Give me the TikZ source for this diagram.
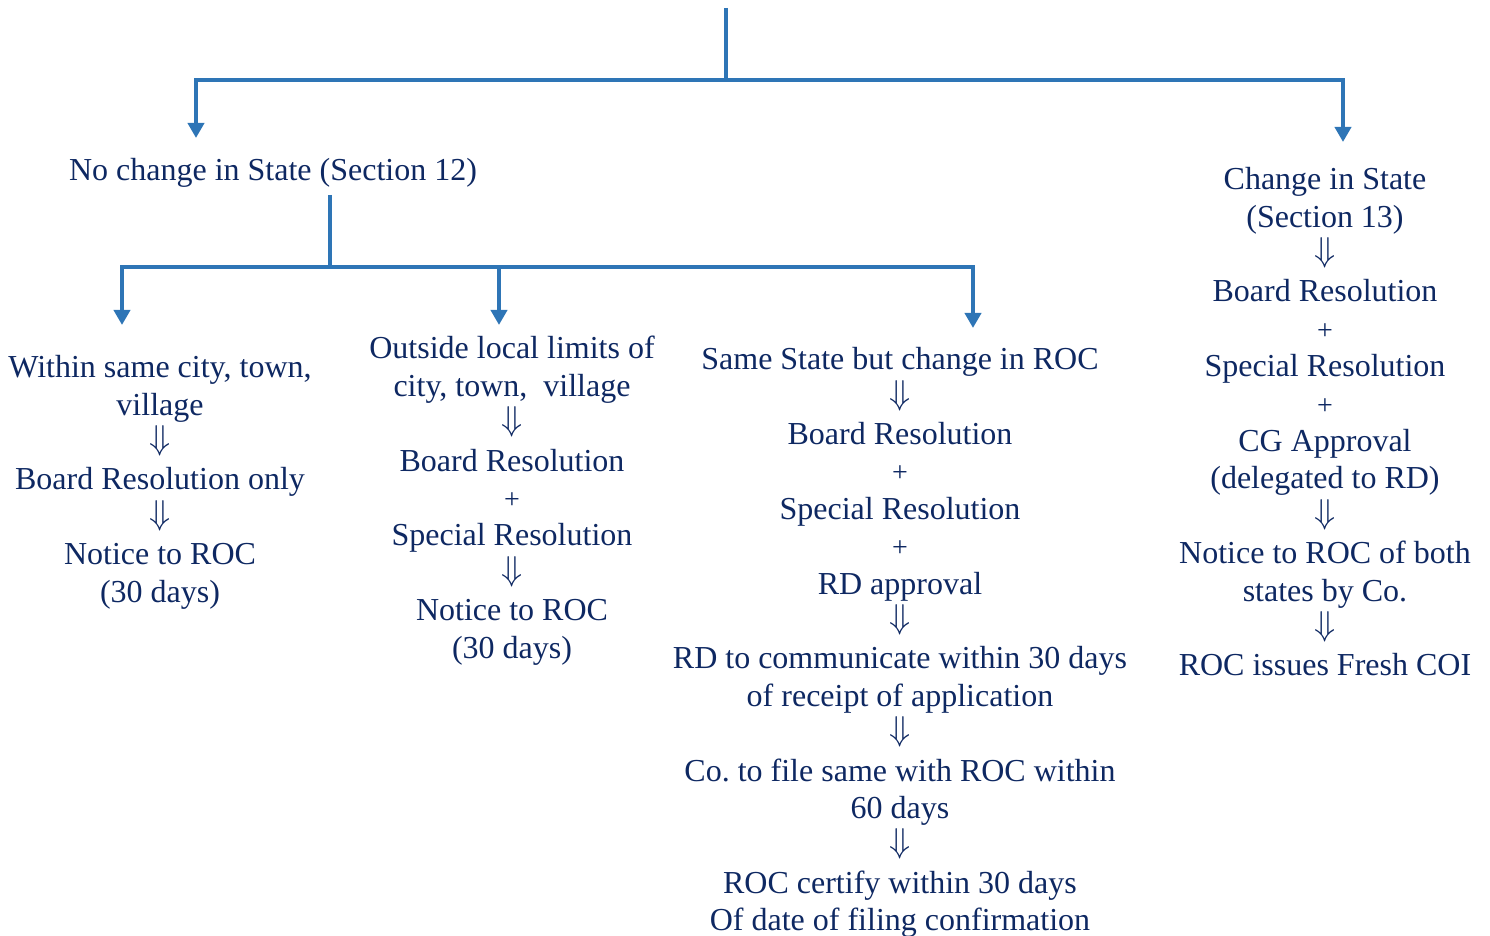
\documentclass[tikz,border=0pt]{standalone}
\usepackage{fontspec}
\setmainfont{Liberation Serif}
\usetikzlibrary{arrows.meta}
\frenchspacing

\definecolor{linkblue}{HTML}{2E75B6}
\definecolor{inknavy}{RGB}{14,40,98}
\newcommand{\thenarrow}{\raisebox{1.5pt}{$\Downarrow$}}
\newcommand{\plusline}{{\fontsize{14}{18.7}\selectfont +}}

\begin{document}
\begin{tikzpicture}[
    x=0.5pt, y=-0.5pt,
    bus/.style={draw=linkblue, line width=2.2pt},
    arrow/.style={bus, -{Triangle[length=7.5pt, width=8pt]}},
    steps/.style={inner sep=0pt, anchor=north, align=center, text=inknavy,
                  font=\fontsize{16}{18.7}\selectfont},
]
\useasboundingbox (0,0) rectangle (1490,936);

% headings
\node[steps] (nochange) at (273,158) {No change in State (Section 12)};

% columns
\node[steps] (samecity) at (160,355) {Within same city, town,\\ village\\ \thenarrow\\
    Board Resolution only\\ \thenarrow\\ Notice to ROC\\ (30 days)};
\node[steps] (outside) at (512,336) {Outside local limits of\\ city, town,\ \ village\\ \thenarrow\\
    Board Resolution\\ \plusline\\ Special Resolution\\ \thenarrow\\
    Notice to ROC\\ (30 days)};
\node[steps] (samestate) at (900,347) {Same State but change in ROC\\ \thenarrow\\
    Board Resolution\\ \plusline\\ Special Resolution\\
    \plusline\\ RD approval\\ \thenarrow\\
    RD to communicate within 30 days\\ of receipt of application\\ \thenarrow\\
    Co.\ to file same with ROC within\\ 60 days\\ \thenarrow\\
    ROC certify within 30 days\\ Of date of filing confirmation};
\node[steps] (change) at (1325,167) {Change in State\\ (Section 13)\\ \thenarrow\\
    Board Resolution\\ \plusline\\ Special Resolution\\
    \plusline\\ CG Approval\\ (delegated to RD)\\ \thenarrow\\
    Notice to ROC of both\\ states by Co.\\ \thenarrow\\ ROC issues Fresh COI};

% tree lines
\coordinate (root) at (726,8);
\coordinate (split) at (726,80);
\coordinate (tonochange) at (196,138);
\coordinate (tochange) at (1343,142);
\coordinate (sub) at (330,195);
\coordinate (subsplit) at (330,267);
\coordinate (tosamecity) at (122,325);
\coordinate (tooutside) at (499,325);
\coordinate (tosamestate) at (973,328);

\draw[bus] (root) -- (split);
\foreach \t in {tonochange, tochange}{
    \draw[arrow] (split) -| (\t);
}
\draw[bus] (sub) -- (subsplit);
\foreach \t in {tosamecity, tooutside, tosamestate}{
    \draw[arrow] (subsplit) -| (\t);
}

\end{tikzpicture}
\end{document}
